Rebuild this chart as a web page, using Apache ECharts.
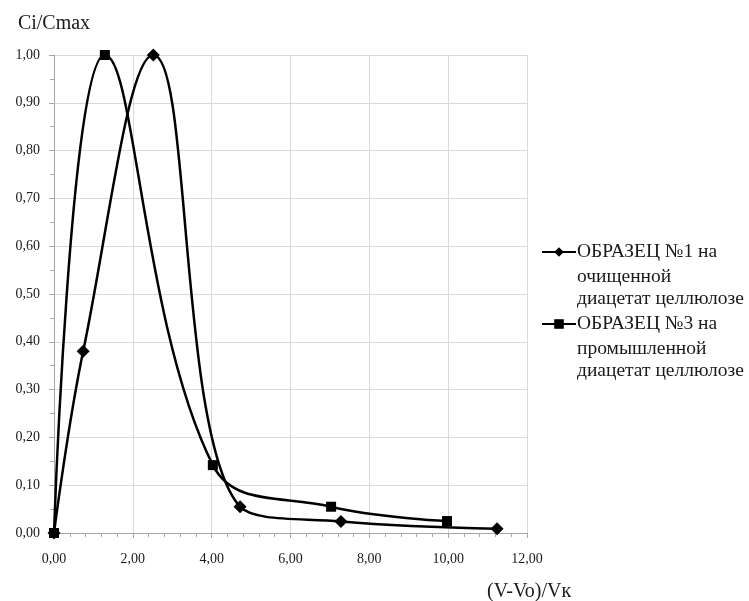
<!DOCTYPE html>
<html>
<head>
<meta charset="utf-8">
<script src="https://cdn.jsdelivr.net/npm/echarts@6/dist/echarts.min.js"></script>
<style>
  html, body { margin: 0; padding: 0; background: #fff; }
  #chart { width: 749px; height: 601px; }
</style>
</head>
<body>
<div id="chart"></div>
<script>
// данные
var seriesNames = ['ОБРАЗЕЦ №1 на', 'ОБРАЗЕЦ №3 на'];
var legendTail1 = ['очищенной', 'диацетат целлюлозе'];
var legendTail2 = ['промышленной', 'диацетат целлюлозе'];
var sample1X = [0, 0.74, 2.52, 4.72, 7.28, 11.24];
var sample1Y = [0, 0.38, 1.0, 0.055, 0.024, 0.009];
var sample3X = [0, 1.29, 4.03, 7.03, 9.97];
var sample3Y = [0, 1.0, 0.142, 0.055, 0.025];

var serif = "'Liberation Serif', 'Times New Roman', serif";

function pairs(xs, ys) {
    var out = [];
    for (var i = 0; i < xs.length; i++) out.push([xs[i], ys[i]]);
    return out;
}
function comma(v) {
    return v.toFixed(2).replace('.', ',');
}

var chart = echarts.init(document.getElementById('chart'));

// продолжение подписей легенды (вторая и третья строки)
var tailText = [];
legendTail1.forEach(function (t, i) {
    tailText.push({ type: 'text', left: 577, top: 267 + i * 22,
        style: { text: t, font: '19.5px ' + serif, fill: '#1a1a1a' } });
});
legendTail2.forEach(function (t, i) {
    tailText.push({ type: 'text', left: 577, top: 339 + i * 22,
        style: { text: t, font: '19.5px ' + serif, fill: '#1a1a1a' } });
});
tailText.push({ type: 'text', left: 487, top: 582,
    style: { text: '(V-Vo)/Vк', font: '20px ' + serif, fill: '#1a1a1a' } });

var option = {
    animation: false,
    grid: { left: 54, right: 222, top: 55, bottom: 68 },
    legend: {
        orient: 'vertical',
        left: 541,
        top: 242,
        padding: 0,
        itemGap: 52,
        itemWidth: 34,
        itemHeight: 12,
        textStyle: { fontFamily: serif, fontSize: 19.5, color: '#1a1a1a', padding: [0, 0, 0, -4] },
        data: seriesNames
    },
    xAxis: {
        type: 'value',
        min: 0, max: 12, interval: 2,
        axisLine: { lineStyle: { color: '#a6a6a6' } },
        axisTick: { show: true, length: 5, lineStyle: { color: '#a6a6a6' } },
        minorTick: { show: true, splitNumber: 5, length: 4, lineStyle: { color: '#a6a6a6' } },
        splitLine: { show: true, lineStyle: { color: '#d9d9d9' } },
        axisLabel: { formatter: comma, fontFamily: serif, fontSize: 14, color: '#1a1a1a', margin: 19 }
    },
    yAxis: {
        type: 'value',
        min: 0, max: 1, interval: 0.1,
        name: 'Ci/Cmax',
        nameLocation: 'end',
        nameGap: 21,
        nameTextStyle: { fontFamily: serif, fontSize: 20, color: '#1a1a1a' },
        axisLine: { show: true, lineStyle: { color: '#a6a6a6' } },
        axisTick: { show: true, length: 5, lineStyle: { color: '#a6a6a6' } },
        minorTick: { show: true, splitNumber: 2, length: 4, lineStyle: { color: '#a6a6a6' } },
        splitLine: { show: true, lineStyle: { color: '#d9d9d9' } },
        axisLabel: { formatter: comma, fontFamily: serif, fontSize: 14, color: '#1a1a1a', margin: 14 }
    },
    graphic: tailText,
    series: [
        {
            name: seriesNames[0],
            type: 'line',
            smooth: 0.4,
            symbol: 'diamond',
            symbolSize: 13,
            lineStyle: { color: '#000', width: 2.5 },
            itemStyle: { color: '#000' },
            data: pairs(sample1X, sample1Y)
        },
        {
            name: seriesNames[1],
            type: 'line',
            smooth: 0.4,
            symbol: 'rect',
            symbolSize: 10,
            lineStyle: { color: '#000', width: 2.5 },
            itemStyle: { color: '#000' },
            data: pairs(sample3X, sample3Y)
        }
    ]
};

chart.setOption(option);
</script>
</body>
</html>
